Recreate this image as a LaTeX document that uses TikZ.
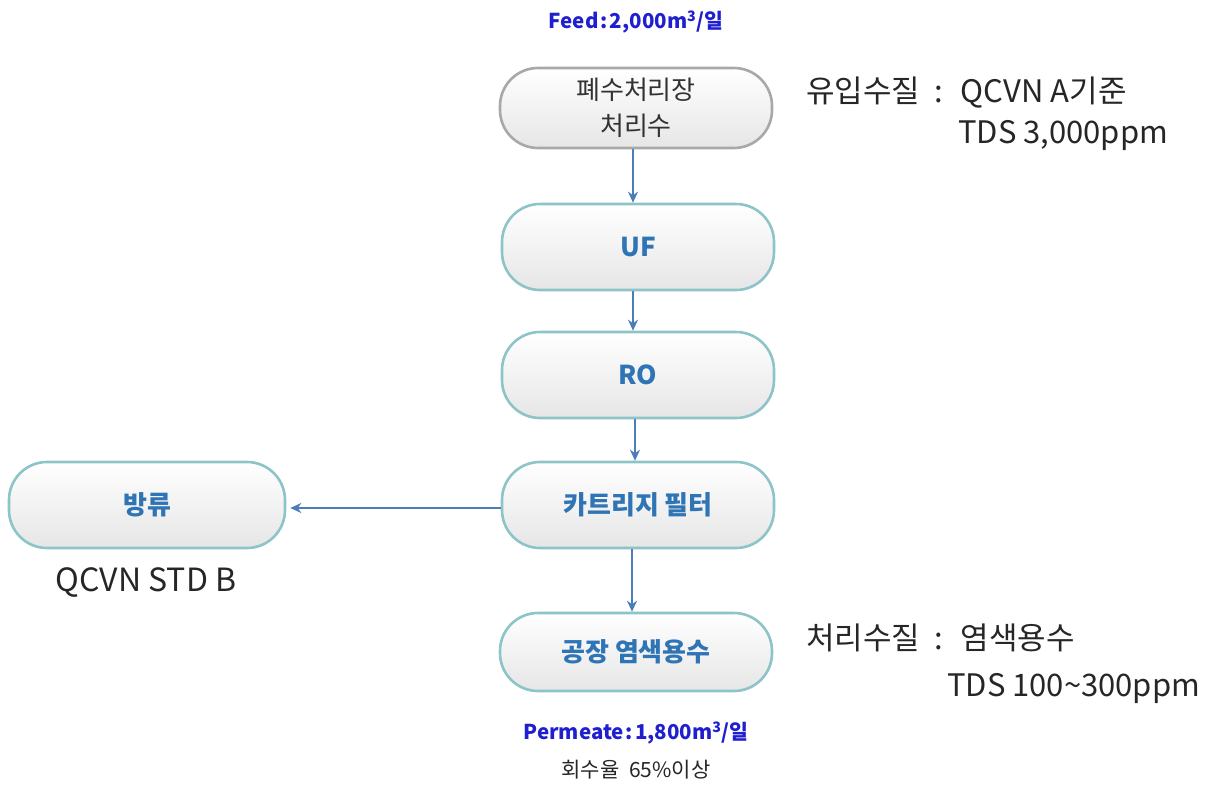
\documentclass[tikz,border=0pt]{standalone}
\usepackage{fontspec}
\setmainfont{Noto Sans CJK KR}
\newfontfamily\kr{Noto Sans CJK KR}
\usetikzlibrary{arrows.meta}
\definecolor{boxedge}{HTML}{8CC4C8}
\definecolor{grayedge}{HTML}{A8A8A8}
\definecolor{boxtext}{HTML}{2F74B5}
\definecolor{arrowc}{HTML}{4A7EBB}
\definecolor{feedblue}{HTML}{1F1FD0}
\definecolor{shadebot}{HTML}{E6E6E6}
\tikzset{
  procbox/.style={draw=boxedge, line width=2.6pt, rounded corners=38pt,
    top color=white, bottom color=shadebot, minimum width=272pt, minimum height=84pt,
    inner sep=0pt, font=\kr\fontsize{26}{30}\selectfont\bfseries, text=boxtext, align=center},
  startbox/.style={procbox, draw=grayedge, text=black!80, font=\kr\fontsize{26}{36}\selectfont},
  flow/.style={draw=arrowc, line width=2.2pt, -{Stealth[length=11pt,width=10pt]}},
  note/.style={font=\kr\fontsize{31}{36}\selectfont, text=black!85, inner sep=0pt},
  bluelab/.style={font=\kr\fontsize{20.5}{24}\selectfont\bfseries, text=feedblue, inner sep=0pt}
}
\begin{document}
\begin{tikzpicture}[x=1pt,y=-1pt]
\useasboundingbox (0,0) rectangle (1222,784);
\node[startbox, minimum height=80pt] (src) at (636,108) {폐수처리장\\처리수};
\node[procbox, minimum height=86pt] (uf) at (638,247) {UF};
\node[procbox, minimum height=86pt] (ro) at (638,375) {RO};
\node[procbox, minimum height=86pt] (cf) at (638,505) {카트리지 필터};
\node[procbox, minimum height=86pt, minimum width=276pt] (dis) at (147,505) {방류};
\node[procbox, minimum height=78pt] (dye) at (636,652) {공장 염색용수};

\node[bluelab] (feed) at (636,22) {Feed\hspace{2pt}:\hspace{2pt}2,000m\textsuperscript{3}/일};
\node[bluelab] (perm) at (636,733) {Permeate\hspace{2pt}:\hspace{2pt}1,800m\textsuperscript{3}/일};
\node[font=\kr\fontsize{21}{24}\selectfont, text=black!85, inner sep=0pt] (rec) at (636,770) {회수율\hspace{10pt}65\%이상};

\node[note, anchor=west] (in1) at (806,93) {유입수질\hspace{14pt}:\hspace{18pt}QCVN A기준};
\node[note, anchor=west] (in2) at (958,135) {TDS 3,000ppm};
\node[note, anchor=west] (out1) at (806,638) {처리수질\hspace{14pt}:\hspace{18pt}염색용수};
\node[note, anchor=west] (out2) at (947,688) {TDS 100\textasciitilde300ppm};
\node[note, font=\kr\fontsize{32}{36}\selectfont] (qb) at (146,582) {QCVN STD B};

\draw[flow] ([xshift=-3pt]src.south) -- ([xshift=-5pt]uf.north);
\draw[flow] ([xshift=-5pt]uf.south) -- ([xshift=-5pt]ro.north);
\draw[flow] ([xshift=-3pt]ro.south) -- ([xshift=-3pt]cf.north);
\draw[flow] ([xshift=-6pt]cf.south) -- ([xshift=-4pt]dye.north);
\draw[flow] ([yshift=-3pt]cf.west) -- ([yshift=-3pt,xshift=4pt]dis.east);
\end{tikzpicture}
\end{document}
